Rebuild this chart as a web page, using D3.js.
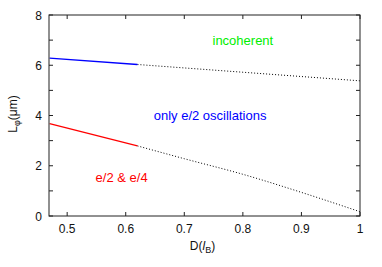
<!DOCTYPE html>
<html>
<head>
<meta charset="utf-8">
<script src="https://cdn.jsdelivr.net/npm/d3@7"></script>
<style>
  body { margin: 0; background: #fff; }
  svg text { font-family: "Liberation Sans", Arial, sans-serif; }
</style>
</head>
<body>
<div id="chart"></div>
<script>
// measured (solid) and extrapolated (dotted) dephasing lengths
const blueD = [0.47, 0.62];
const blueL = [6.28, 6.03];
const blueDotD = [0.62, 1.0];
const blueDotL = [6.03, 5.38];
const redD = [0.47, 0.62];
const redL = [3.68, 2.79];
const redDotD = [0.62, 0.7, 0.8, 0.9, 1.0];
const redDotL = [2.79, 2.28, 1.66, 0.94, 0.17];

const xTicks = [0.5, 0.6, 0.7, 0.8, 0.9, 1];
const yTicks = [0, 1, 2, 3, 4, 5, 6, 7, 8];
const yLabels = [0, 2, 4, 6, 8];

const regions = [
  { text: "incoherent", x: 0.80, y: 6.82, color: "#00ee00" },
  { text: "only e/2 oscillations", x: 0.744, y: 3.82, color: "#0000ff" },
  { text: "e/2 & e/4", x: 0.593, y: 1.35, color: "#ff0000" }
];

const width = 382, height = 267;
const margin = { top: 15, right: 22, bottom: 51, left: 49 };

const svg = d3.select("#chart").append("svg")
  .attr("width", width)
  .attr("height", height);

const x = d3.scaleLinear().domain([0.469, 1]).range([margin.left, width - margin.right]);
const y = d3.scaleLinear().domain([0, 8]).range([height - margin.bottom, margin.top]);

const frame = "#222";

// ticks, drawn inward on all four sides
const g = svg.append("g");
xTicks.forEach(t => {
  g.append("line").attr("x1", x(t)).attr("x2", x(t))
    .attr("y1", y(0)).attr("y2", y(0) - 4).attr("stroke", frame);
  g.append("line").attr("x1", x(t)).attr("x2", x(t))
    .attr("y1", y(8)).attr("y2", y(8) + 4).attr("stroke", frame);
  g.append("text").attr("x", x(t)).attr("y", y(0) + 17)
    .attr("text-anchor", "middle").attr("font-size", 12).attr("fill", "#111")
    .text(t);
});
yTicks.forEach(t => {
  g.append("line").attr("x1", x.range()[0]).attr("x2", x.range()[0] + 4)
    .attr("y1", y(t)).attr("y2", y(t)).attr("stroke", frame);
  g.append("line").attr("x1", x.range()[1]).attr("x2", x.range()[1] - 4)
    .attr("y1", y(t)).attr("y2", y(t)).attr("stroke", frame);
});
yLabels.forEach(t => {
  g.append("text").attr("x", x.range()[0] - 7).attr("y", y(t) + 4.5)
    .attr("text-anchor", "end").attr("font-size", 12).attr("fill", "#111")
    .text(t);
});

// lines
const line = d3.line().x(d => x(d[0])).y(d => y(d[1]));
const zip = (a, b) => a.map((v, i) => [v, b[i]]);

svg.append("path").datum(zip(blueDotD, blueDotL)).attr("d", line)
  .attr("fill", "none").attr("stroke", "#000").attr("stroke-width", 1)
  .attr("stroke-dasharray", "1,2");
svg.append("path").datum(zip(redDotD, redDotL)).attr("d", line.curve(d3.curveMonotoneX))
  .attr("fill", "none").attr("stroke", "#000").attr("stroke-width", 1)
  .attr("stroke-dasharray", "1,2");
line.curve(d3.curveLinear);
svg.append("path").datum(zip(blueD, blueL)).attr("d", line)
  .attr("fill", "none").attr("stroke", "#0000ff").attr("stroke-width", 1.3);
svg.append("path").datum(zip(redD, redL)).attr("d", line)
  .attr("fill", "none").attr("stroke", "#ff0000").attr("stroke-width", 1.3);

// frame
svg.append("rect")
  .attr("x", x.range()[0]).attr("y", y(8))
  .attr("width", x.range()[1] - x.range()[0]).attr("height", y(0) - y(8))
  .attr("fill", "none").attr("stroke", frame).attr("stroke-width", 1);

// region labels
svg.selectAll(".region").data(regions).join("text")
  .attr("class", "region")
  .attr("x", d => x(d.x)).attr("y", d => y(d.y))
  .attr("text-anchor", "middle").attr("font-size", 13)
  .attr("fill", d => d.color)
  .text(d => d.text);

// axis titles
const xt = svg.append("text").attr("x", (x.range()[0] + x.range()[1]) / 2 - 2).attr("y", 250)
  .attr("text-anchor", "middle").attr("font-size", 12).attr("fill", "#111");
xt.append("tspan").text("D(");
xt.append("tspan").attr("font-style", "italic").text("l");
xt.append("tspan").attr("font-size", 9).attr("dy", 3).text("B");
xt.append("tspan").attr("dy", -3).text(")");

const yt = svg.append("text")
  .attr("transform", "translate(17,114) rotate(-90)")
  .attr("text-anchor", "middle").attr("font-size", 12).attr("fill", "#111");
yt.append("tspan").text("L");
yt.append("tspan").attr("font-size", 9).attr("dy", 3).text("φ");
yt.append("tspan").attr("dy", -3).text("(μm)");
</script>
</body>
</html>
